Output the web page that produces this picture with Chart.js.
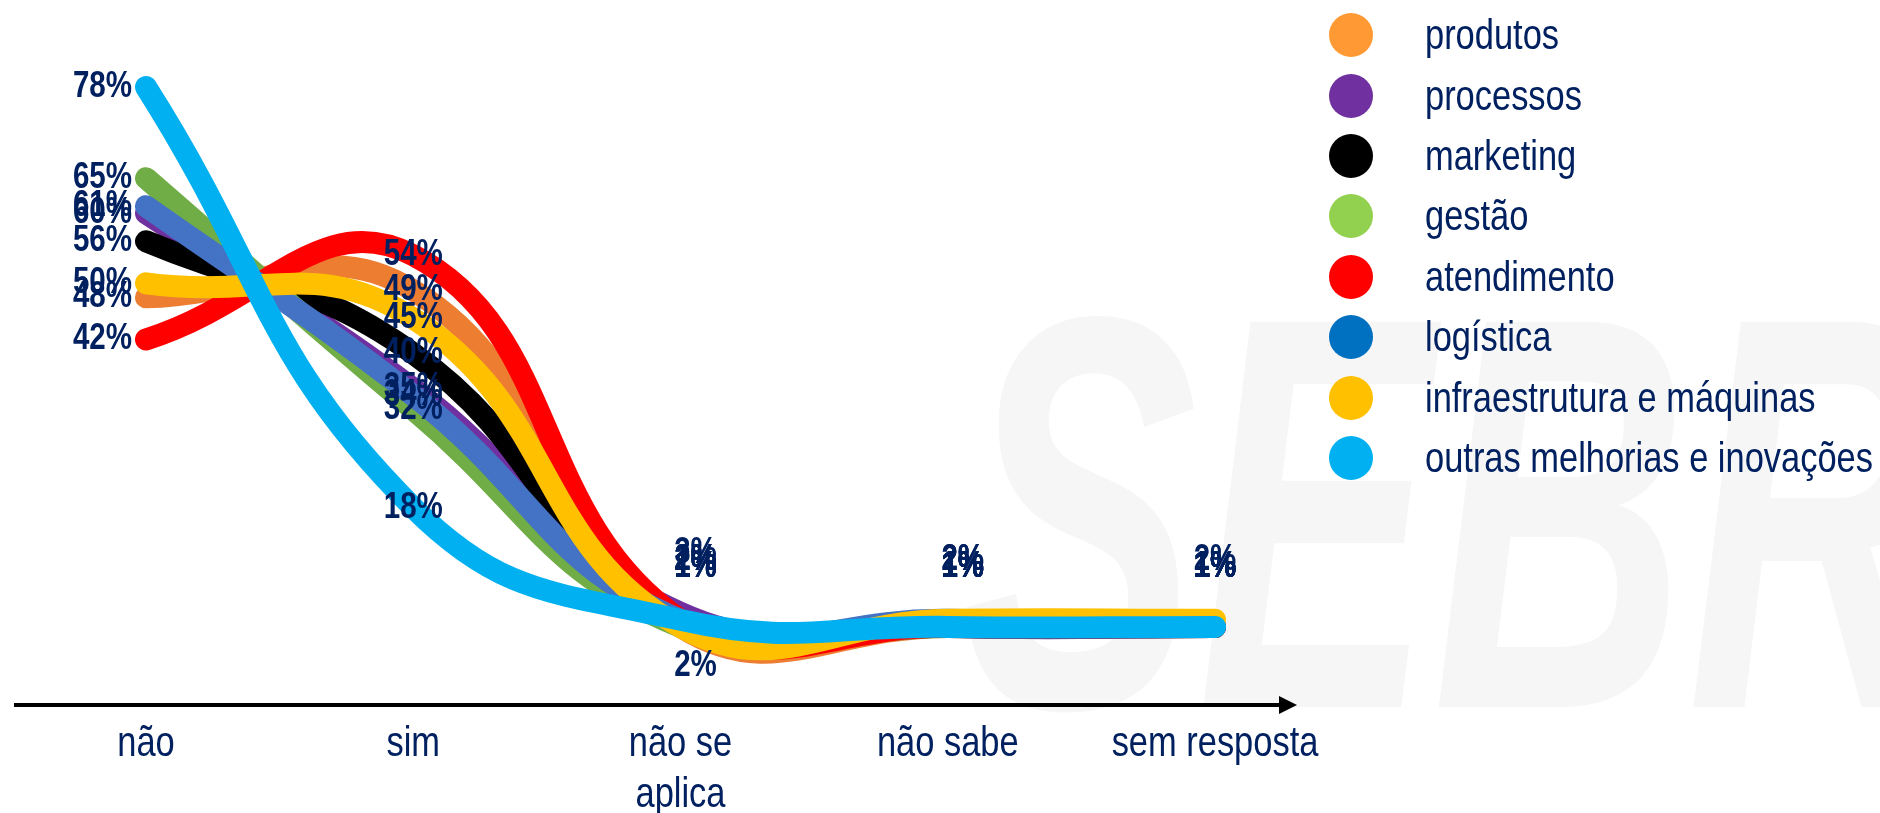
<!DOCTYPE html>
<html lang="pt-BR">
<head>
<meta charset="utf-8">
<title>Melhorias e inovações</title>
<script src="https://cdn.jsdelivr.net/npm/chart.js@4.4.0/dist/chart.umd.min.js"></script>
<style>
  html, body { margin: 0; padding: 0; background: #fff; overflow: hidden; }
  body { width: 1880px; height: 813px; position: relative; font-family: "Liberation Sans Narrow", "Arial Narrow", "Liberation Sans", Arial, sans-serif; }
  #marca { position: absolute; left: 962px; top: 233px; font-size: 560px; line-height: 1; font-weight: bold; font-style: italic; color: #f6f6f6; transform: scaleX(0.63); transform-origin: left top; white-space: nowrap; z-index: 0; }
  #wrap { position: absolute; left: 0; top: 0; width: 1880px; height: 813px; z-index: 1; }
  #legenda { position: absolute; left: 1329px; top: 5px; z-index: 2; color: #002060; font-size: 42px; }
  #legenda .item { height: 60.4px; display: flex; align-items: center; white-space: nowrap; }
  #legenda .dot { width: 44px; height: 44px; border-radius: 50%; margin-right: 52px; flex: none; }
  #legenda .txt { display: inline-block; transform: scaleX(0.82); transform-origin: left center; }
</style>
</head>
<body>
<div id="marca">SEBRAE</div>
<div id="wrap"><canvas id="grafico" width="1880" height="813"></canvas></div>
<div id="legenda"></div>
<script>
// respostas
const categories = ['não', 'sim', ['não se', 'aplica'], 'não sabe', 'sem resposta'];

// % por tipo de melhoria
const produtos       = [48, 49, 1, 1, 1];
const processos      = [60, 35, 3, 1, 1];
const marketing      = [56, 40, 2, 1, 1];
const gestao         = [65, 32, 1, 1, 1];
const atendimento    = [42, 54, 2, 1, 1];
const logistica      = [61, 34, 2, 2, 1];
const infraestrutura = [50, 45, 1, 2, 2];
const outras         = [78, 18, 2, 1, 1];

const seriesNames = ['produtos', 'processos', 'marketing', 'gestão', 'atendimento',
  'logística', 'infraestrutura e máquinas', 'outras melhorias e inovações'];
const seriesData = [produtos, processos, marketing, gestao, atendimento, logistica, infraestrutura, outras];
const lineColors = ['#ED7D31', '#7030A0', '#000000', '#70AD47', '#FF0000', '#4472C4', '#FFC000', '#00B0F0'];
const dotColors  = ['#FF9933', '#7030A0', '#000000', '#92D050', '#FF0000', '#0070C0', '#FFC000', '#00B0F0'];

const fontFamily = '"Liberation Sans Narrow", "Arial Narrow", "Liberation Sans", Arial, sans-serif';
const navy = '#002060';
const narrow = 0.82; // aperta o texto como Arial Narrow

// legenda em html
const legenda = document.getElementById('legenda');
seriesNames.forEach((name, i) => {
  const row = document.createElement('div');
  row.className = 'item';
  const dot = document.createElement('span');
  dot.className = 'dot';
  dot.style.background = dotColors[i];
  const txt = document.createElement('span');
  txt.className = 'txt';
  txt.textContent = name;
  row.appendChild(dot);
  row.appendChild(txt);
  legenda.appendChild(row);
});

function narrowText(ctx, text, x, y) {
  ctx.save();
  ctx.translate(x, y);
  ctx.scale(narrow, 1);
  ctx.fillText(text, 0, 0);
  ctx.restore();
}

// eixo x com seta + nomes das categorias
const axisArrow = {
  id: 'axisArrow',
  afterDraw(chart) {
    const { ctx, chartArea } = chart;
    const xs = chart.scales.x;
    const y = chartArea.bottom + 1;
    const end = chartArea.right + 82;
    ctx.save();
    ctx.strokeStyle = '#000';
    ctx.fillStyle = '#000';
    ctx.lineWidth = 4;
    ctx.beginPath();
    ctx.moveTo(14, y);
    ctx.lineTo(end - 16, y);
    ctx.stroke();
    ctx.beginPath();
    ctx.moveTo(end - 18, y - 9);
    ctx.lineTo(end, y);
    ctx.lineTo(end - 18, y + 9);
    ctx.closePath();
    ctx.fill();

    ctx.fillStyle = navy;
    ctx.font = '42px ' + fontFamily;
    ctx.textAlign = 'center';
    ctx.textBaseline = 'middle';
    categories.forEach((cat, i) => {
      const lines = Array.isArray(cat) ? cat : [cat];
      const x = xs.getPixelForTick(i);
      lines.forEach((line, k) => narrowText(ctx, line, x, y + 39 + k * 51));
    });
    ctx.restore();
  }
};

// rótulos de percentagem
const pctLabels = {
  id: 'pctLabels',
  afterDatasetsDraw(chart) {
    const { ctx } = chart;
    ctx.save();
    ctx.font = 'bold 36px ' + fontFamily;
    ctx.fillStyle = navy;
    ctx.textBaseline = 'middle';
    chart.data.datasets.forEach((ds, d) => {
      const meta = chart.getDatasetMeta(d);
      meta.data.forEach((pt, i) => {
        const text = ds.data[i] + '%';
        let x = pt.x, y = pt.y;
        if (i === 0) {
          ctx.textAlign = 'right';
          x -= 14;
        } else if (i === 1) {
          ctx.textAlign = 'center';
        } else {
          ctx.textAlign = 'center';
          x += i === 4 ? 0 : 15;
          y += (i === 2 && ds.label === 'atendimento') ? 46 : -60;
        }
        narrowText(ctx, text, x, y);
      });
    });
    ctx.restore();
  }
};

const datasets = seriesNames.map((name, i) => ({
  label: name,
  data: seriesData[i],
  borderColor: lineColors[i],
  backgroundColor: lineColors[i],
  borderWidth: 22,
  borderCapStyle: 'round',
  borderJoinStyle: 'round',
  pointRadius: 0,
  tension: 0.45,
  fill: false,
  order: seriesNames.length - i
}));

new Chart(document.getElementById('grafico'), {
  type: 'line',
  data: { labels: categories, datasets },
  options: {
    responsive: false,
    devicePixelRatio: 1,
    animation: false,
    layout: { padding: { left: 146, right: 665, top: 73, bottom: 0 } },
    plugins: {
      legend: { display: false },
      tooltip: { enabled: false }
    },
    scales: {
      x: {
        grid: { display: false, drawTicks: false },
        border: { display: false },
        ticks: { display: false },
        afterFit(scale) { scale.height = 109; }
      },
      y: { display: false, min: -10, max: 80 }
    }
  },
  plugins: [axisArrow, pctLabels]
});
</script>
</body>
</html>
